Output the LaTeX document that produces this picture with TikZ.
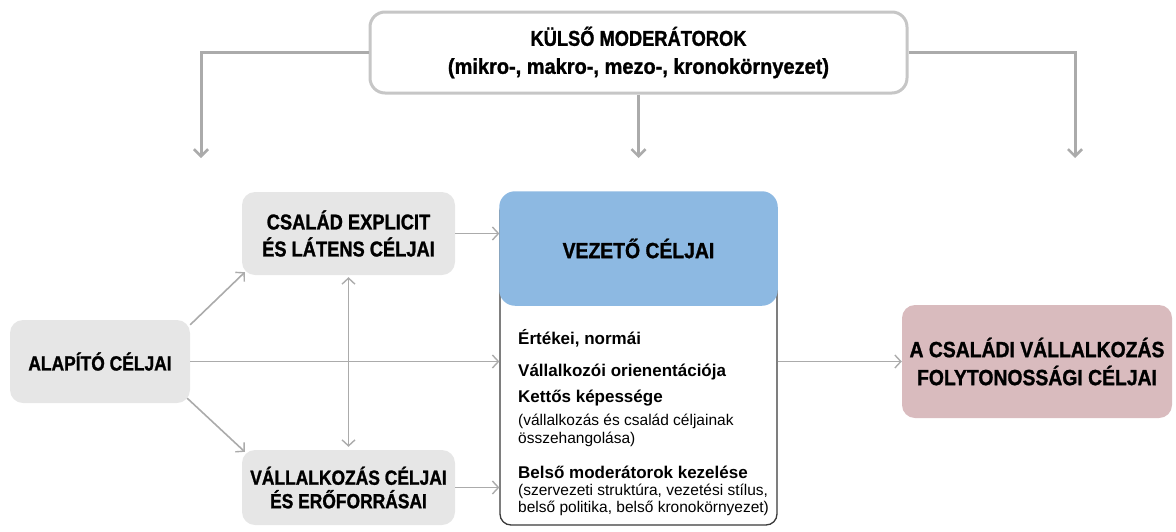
\documentclass[tikz,border=0pt]{standalone}
\usepackage{fontspec}
\setmainfont{Liberation Sans}
\newfontfamily\condA[FakeStretch=0.85,BoldFeatures={FakeBold=1.2}]{Liberation Sans}
\newfontfamily\condB[FakeStretch=0.88,BoldFeatures={FakeBold=1.2}]{Liberation Sans}
\newfontfamily\condT[FakeStretch=0.93,BoldFeatures={FakeBold=1.2}]{Liberation Sans}
\newfontfamily\condI{Liberation Sans}
\usetikzlibrary{arrows.meta,calc}
\definecolor{boxgrey}{HTML}{E6E6E6}
\definecolor{topborder}{HTML}{C6C6C6}
\definecolor{arrgrey}{HTML}{ABABAB}
\definecolor{headblue}{HTML}{8DB9E2}
\definecolor{finpink}{HTML}{D9BBBE}
\definecolor{vezborder}{HTML}{3A3A3A}
\tikzset{
  lbl/.style={font=\condA\bfseries\fontsize{21}{26}\selectfont, align=center, text=black},
  gbox/.style={lbl, fill=boxgrey, rounded corners=13pt, inner sep=0pt},
  arr/.style={draw=arrgrey, line width=1.6pt, -{Straight Barb[length=6pt,width=13pt,line width=1.4pt]}},
  toparr/.style={draw=arrgrey, line width=3pt, -{Straight Barb[length=7pt,width=14pt,line width=2.6pt]}},
  dblarr/.style={draw=arrgrey, line width=1.6pt, {Straight Barb[length=6pt,width=13pt,line width=1.4pt]}-{Straight Barb[length=6pt,width=13pt,line width=1.4pt]}},
  itemb/.style={anchor=base west, inner sep=0pt, font=\condI\bfseries\fontsize{17}{20}\selectfont},
  itemr/.style={anchor=base west, inner sep=0pt, font=\condI\fontsize{15.5}{18}\selectfont},
}
\begin{document}
\begin{tikzpicture}[x=1pt,y=-1pt]
\useasboundingbox (0,0) rectangle (1176,531);
% top box
\node[lbl, draw=topborder, line width=3pt, fill=white, rounded corners=15pt,
      minimum width=537pt, minimum height=81pt, inner sep=0pt,
      font=\condA\bfseries\fontsize{21.5}{28}\selectfont] (top) at (638.5,52.5)
  {KÜLSŐ MODERÁTOROK\\{\condT\bfseries (mikro-, makro-, mezo-, kronokörnyezet)}};
\coordinate (tl) at (201,158);
\coordinate (tm) at (638.5,158);
\coordinate (tr) at (1075,158);
\draw[toparr] (top.west) -| (tl);
\draw[toparr] (top.south) -- (tm);
\draw[toparr] (top.east) -| (tr);
% left boxes
\node[gbox, minimum width=180pt, minimum height=83pt, font=\condA\bfseries\fontsize{20.5}{26}\selectfont] (alap) at (100,361.5) {ALAPÍTÓ CÉLJAI};
\node[gbox, minimum width=213pt, minimum height=83pt, font=\condA\bfseries\fontsize{21.5}{27}\selectfont] (csal) at (348.5,233.5) {CSALÁD EXPLICIT\\ÉS LÁTENS CÉLJAI};
\node[gbox, minimum width=213pt, minimum height=75pt, font=\condA\bfseries\fontsize{20.5}{23.5}\selectfont] (vall) at (348.5,487.5) {VÁLLALKOZÁS CÉLJAI\\ÉS ERŐFORRÁSAI};
% central box
\node[draw=vezborder, line width=1.3pt, fill=white, rounded corners=11pt,
      minimum width=277pt, minimum height=325pt, inner sep=0pt] (vez) at (638.5,362.5) {};
\node[lbl, fill=headblue, draw=headblue, line width=1.5pt, rounded corners=15pt, minimum width=277pt, minimum height=113pt, inner sep=0pt,
      font=\condB\bfseries\fontsize{22}{26}\selectfont] (vezh) at (638.5,248.5) {VEZETŐ CÉLJAI};
\node[itemb] (v1) at (518,344) {Értékei, normái};
\node[itemb] (v2) at (518,376) {Vállalkozói orienentációja};
\node[itemb] (v3) at (518,402) {Kettős képessége};
\node[itemr] (v4) at (518,425) {(vállalkozás és család céljainak};
\node[itemr] (v5) at (518,443) {összehangolása)};
\node[itemb] (v6) at (518,478) {Belső moderátorok kezelése};
\node[itemr] (v7) at (518,495.5) {(szervezeti struktúra, vezetési stílus,};
\node[itemr] (v8) at (518,512) {belső politika, belső kronokörnyezet)};
% final box
\node[gbox, fill=finpink, minimum width=270pt, minimum height=113pt, font=\condB\bfseries\fontsize{22}{28}\selectfont] (fin) at (1037,361.5) {A CSALÁDI VÁLLALKOZÁS\\FOLYTONOSSÁGI CÉLJAI};
% connectors
\draw[arr] ($(alap.north east)+(0,5)$) -- ($(csal.south west)+(3,-3)$);
\draw[arr] ($(alap.south east)+(-3,-5)$) -- ($(vall.north west)+(3,2)$);
\draw[arr] (alap.east) -- (vez.west |- alap.east);
\draw[arr] (csal.east) -- (vez.west |- csal.east);
\draw[arr] (vall.east) -- (vez.west |- vall.east);
\draw[dblarr] ($(csal.south)+(0,2)$) -- ($(vall.north)+(0,-3)$);
\draw[arr] (vez.east |- fin.west) -- (fin.west);
\end{tikzpicture}
\end{document}
